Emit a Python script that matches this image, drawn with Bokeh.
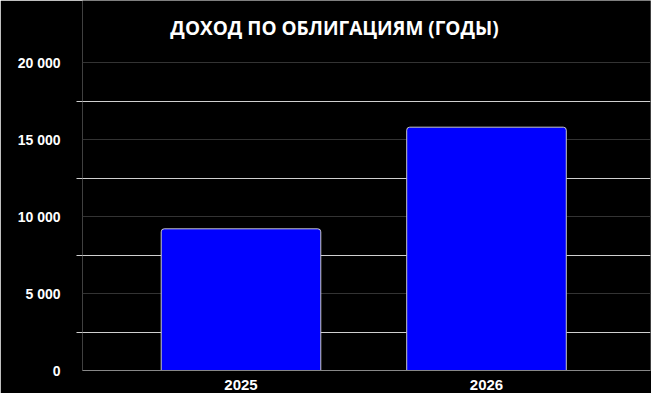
from bokeh.plotting import figure
from bokeh.models import FixedTicker, Range1d, Label
from bokeh.embed import file_html
from bokeh.resources import INLINE

title_text = "ДОХОД ПО ОБЛИГАЦИЯМ (ГОДЫ)"
years = ["2025", "2026"]
income = [9200, 15800]
y_ticks = [0, 5000, 10000, 15000, 20000]
y_tick_labels = ["0", "5 000", "10 000", "15 000", "20 000"]
y_minor_ticks = [2500, 7500, 12500, 17500]

x_pos = list(range(len(years)))

# top of the range leaves room above 20 000 for the title
p = figure(width=651, height=393, output_backend="svg", toolbar_location=None,
           x_range=Range1d(-0.6456, 1.668),
           y_range=Range1d(0, 24026),
           background_fill_color="black", border_fill_color="black",
           outline_line_color=None,
           min_border_left=82, min_border_right=1, min_border_top=0, min_border_bottom=23)

p.add_layout(Label(x=252, y=343, x_units="screen", y_units="screen", text=title_text,
                   text_align="center", text_baseline="alphabetic", text_color="white",
                   text_font="Open Sans", text_font_size="19px", text_font_style="bold"))

p.vbar(x=x_pos, top=income, width=0.65, bottom=0,
       fill_color="#0000FF", line_color="#c8c8c8", line_width=1,
       border_radius=(3, 3, 0, 0))

p.yaxis.ticker = FixedTicker(ticks=y_ticks, minor_ticks=y_minor_ticks)
p.yaxis.major_label_overrides = {t: l for t, l in zip(y_ticks, y_tick_labels)}
p.yaxis.axis_line_color = None
p.yaxis.major_tick_line_color = None
p.yaxis.minor_tick_line_color = "#d0d0d0"
p.yaxis.minor_tick_out = 6
p.yaxis.minor_tick_in = 0
p.yaxis.major_label_text_color = "white"
p.yaxis.major_label_text_font = "Liberation Sans"
p.yaxis.major_label_text_font_style = "bold"
p.yaxis.major_label_text_font_size = "14px"
p.yaxis.major_label_standoff = 16

p.xaxis.ticker = FixedTicker(ticks=x_pos, minor_ticks=[])
p.xaxis.major_label_overrides = {i: y for i, y in zip(x_pos, years)}
p.xaxis.axis_line_color = "#888888"
p.xaxis.major_tick_line_color = None
p.xaxis.minor_tick_line_color = None
p.xaxis.major_label_text_color = "white"
p.xaxis.major_label_text_font = "Liberation Sans"
p.xaxis.major_label_text_font_style = "bold"
p.xaxis.major_label_text_font_size = "15px"
p.xaxis.major_label_standoff = 3

p.xgrid.grid_line_color = None
p.ygrid.grid_line_color = "#333333"
p.ygrid.minor_grid_line_color = "#d0d0d0"

open("out.html", "w").write(file_html(p, INLINE))
